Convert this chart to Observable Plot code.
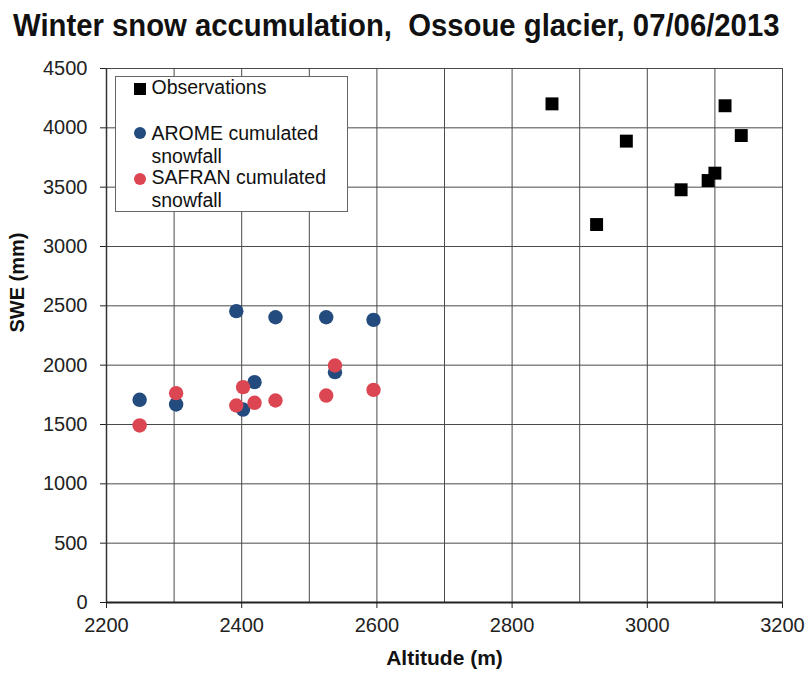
<!DOCTYPE html>
<html>
<head>
<meta charset="utf-8">
<script src="https://cdn.jsdelivr.net/npm/d3@7"></script>
<script src="https://cdn.jsdelivr.net/npm/@observablehq/plot@0.6"></script>
<style>
  body { margin: 0; background: #fff; font-family: "Liberation Sans", Arial, sans-serif; }
  #wrap { position: relative; width: 806px; height: 673px; overflow: hidden; }
  #title { display: block; }
  #chart svg { display: block; }
  #legend { position: absolute; left: 115px; top: 76px; width: 233px; height: 136px;
            border: 1px solid #666; background: #fff; box-sizing: border-box; }
  .item { position: absolute; left: 35.5px; font-size: 19.5px; line-height: 22.5px; color: #111; white-space: nowrap; }
  .mk { position: absolute; }
</style>
</head>
<body>
<div id="wrap">
  <svg id="title" width="806" height="48"></svg>
  <div id="chart"></div>
  <div id="legend"></div>
</div>
<script>
// ---- data ----
const titleText = "Winter snow accumulation,  Ossoue glacier, 07/06/2013";
const xLabel = "Altitude (m)";
const yLabel = "SWE (mm)";

const xGridValues = [2200, 2300, 2400, 2500, 2600, 2700, 2800, 2900, 3000, 3100, 3200];
const xTickValues = [2200, 2400, 2600, 2800, 3000, 3200];
const yTickValues = [0, 500, 1000, 1500, 2000, 2500, 3000, 3500, 4000, 4500];

const obsAltitude = [2859, 2925, 2969, 3050, 3090, 3100, 3115, 3139];
const obsSWE      = [4202, 3185, 3888, 3478, 3556, 3618, 4186, 3935];

const modelAltitude = [2249, 2303, 2392, 2402, 2419, 2450, 2525, 2538, 2595];
const aromeSWE      = [1708, 1669, 2455, 1626, 1857, 2404, 2404, 1941, 2382];
const safranSWE     = [1492, 1764, 1660, 1815, 1683, 1702, 1744, 1997, 1792];

const seriesNames  = ["Observations", "AROME cumulated snowfall", "SAFRAN cumulated snowfall"];
const seriesColors = ["#000000", "#234b7e", "#dc4652"];

// ---- tables ----
const obs = obsAltitude.map((a, i) => ({alt: a, swe: obsSWE[i]}));
const arome = modelAltitude.map((a, i) => ({alt: a, swe: aromeSWE[i]}));
const safran = modelAltitude.map((a, i) => ({alt: a, swe: safranSWE[i]}));

// ---- title ----
const tsvg = d3.select("#title");
tsvg.append("text")
  .attr("transform", "translate(13,36) scale(1,1.08)")
  .attr("x", 0).attr("y", 0)
  .attr("font-family", "Liberation Sans, Arial, sans-serif")
  .attr("font-weight", "bold").attr("font-size", 29.3).attr("fill", "#111")
  .attr("xml:space", "preserve")
  .text(titleText);

// ---- chart ----
const chart = Plot.plot({
  width: 806,
  height: 625,
  marginTop: 20,
  marginBottom: 71,
  marginLeft: 106,
  marginRight: 24,
  style: {fontFamily: "Liberation Sans, Arial, sans-serif", fontSize: "20px", background: "white", color: "#222", overflow: "visible"},
  x: {domain: [2200, 3200]},
  y: {domain: [0, 4500]},
  marks: [
    Plot.ruleX(xGridValues, {stroke: "#4a4a4a", strokeWidth: 1}),
    Plot.ruleY(yTickValues, {stroke: "#4a4a4a", strokeWidth: 1}),
    Plot.ruleX([xGridValues[0]], {stroke: "#333", strokeWidth: 1.5}),
    Plot.ruleY([yTickValues[0]], {stroke: "#222", strokeWidth: 2}),
    Plot.axisX({ticks: xTickValues, tickSize: 6, tickPadding: 9, tickFormat: d => String(d), label: null, fill: "#222"}),
    Plot.axisY({ticks: yTickValues, tickSize: 6, tickPadding: 13, tickFormat: d => String(d), label: null, fill: "#222"}),
    Plot.text([xLabel], {frameAnchor: "bottom", dy: 62, fontWeight: "bold", fontSize: 21, fill: "#111"}),
    Plot.text([yLabel], {frameAnchor: "left", rotate: -90, dx: -89, dy: -3, fontWeight: "bold", fontSize: 20, fill: "#111"}),
    Plot.dot(arome, {x: "alt", y: "swe", r: 7.2, fill: seriesColors[1], stroke: "none"}),
    Plot.dot(safran, {x: "alt", y: "swe", r: 7.2, fill: seriesColors[2], stroke: "none"}),
    Plot.dot(obs, {x: "alt", y: "swe", r: 7.3, symbol: "square", fill: seriesColors[0], stroke: "none"})
  ]
});
document.getElementById("chart").appendChild(chart);

// ---- legend ----
const legend = document.getElementById("legend");
const itemTops = [-0.7, 45, 89];
const markerTops = [6.3, 49.7, 96.3];
const lines = [["Observations"], ["AROME cumulated", "snowfall"], ["SAFRAN cumulated", "snowfall"]];
seriesNames.forEach((name, i) => {
  const mk = document.createElement("div");
  mk.className = "mk";
  mk.style.left = "18px";
  mk.style.top = markerTops[i] + "px";
  mk.style.width = "12px";
  mk.style.height = "12px";
  mk.style.background = seriesColors[i];
  if (i > 0) mk.style.borderRadius = "50%";
  legend.appendChild(mk);
  const it = document.createElement("div");
  it.className = "item";
  it.style.top = itemTops[i] + "px";
  it.innerHTML = lines[i].join("<br>");
  it.title = name;
  legend.appendChild(it);
});
</script>
</body>
</html>
